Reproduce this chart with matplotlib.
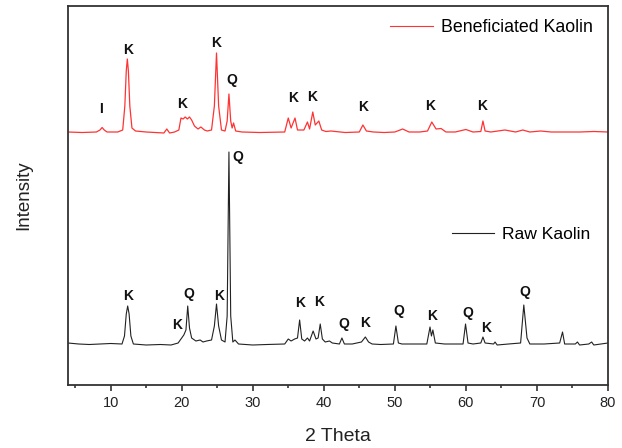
import matplotlib
matplotlib.use("Agg")
import matplotlib.pyplot as plt
from matplotlib.ticker import MultipleLocator
from matplotlib.lines import Line2D

plt.rcParams['font.family'] = ['Liberation Sans', 'DejaVu Sans']

# Raw kaolin trace (2theta, intensity in arbitrary units)
raw_2theta = [4.0, 5.5, 7.0, 8.5, 10.0, 11.6, 11.95, 12.2, 12.4, 12.6, 12.85, 13.2, 15.0, 17.0, 18.5,
              19.5, 19.9, 20.3, 20.6, 20.85, 21.1, 21.4, 22.0, 22.6, 23.0, 23.5, 24.2, 24.6, 24.9,
              25.2, 25.6, 26.1, 26.4, 26.65, 26.9, 27.2, 27.5, 28.0, 30.0, 32.0, 34.5, 35.0, 35.4,
              35.9, 36.3, 36.6, 36.9, 37.3, 37.7, 38.0, 38.5, 38.9, 39.2, 39.5, 39.8, 40.2, 40.8,
              41.2, 42.2, 42.55, 42.9, 44.0, 45.3, 45.85, 46.3, 46.8, 48.0, 49.8, 50.15, 50.5,
              51.0, 52.5, 54.5, 54.95, 55.15, 55.35, 55.7, 57.0, 59.6, 59.95, 60.3, 61.0, 62.1,
              62.4, 62.7, 63.9, 64.1, 64.4, 66.0, 67.7, 68.15, 68.3, 68.6, 69.0, 71.0, 73.2,
              73.6, 73.9, 75.4, 75.7, 76.0, 77.3, 77.7, 78.0, 79.0, 80.0]
raw_int = [53, 52, 51.5, 52, 52.5, 52, 60, 82, 90, 82, 60, 52, 51, 51.5, 51,
           53, 57, 61, 66, 90, 68, 58, 55, 56, 54, 55, 56, 70, 92,
           70, 56, 54, 80, 244, 80, 54, 56, 52, 51, 51.5, 52, 57, 55,
           57, 58, 76, 57, 55, 58, 55, 65, 57, 58, 72, 57, 54, 55,
           53, 52, 58, 52, 52, 54, 59, 54, 52, 51.5, 52, 70, 53,
           52, 52, 52, 69, 60, 66, 53, 52, 52, 72, 53, 52, 53,
           59, 53, 52, 54, 51, 52, 53, 91, 80, 58, 52, 52, 53,
           64, 52, 52, 54, 51, 52, 54, 51, 52, 53]

# Beneficiated kaolin trace
ben_2theta = [4.0, 6.0, 8.0, 8.5, 8.8, 9.1, 9.5, 11.0, 11.7, 12.0, 12.2, 12.35, 12.5, 12.7, 13.0,
              13.5, 15.0, 17.5, 17.9, 18.3, 19.0, 19.6, 19.9, 20.2, 20.5, 20.8, 21.1, 21.4,
              21.8, 22.3, 22.7, 23.2, 23.6, 24.2, 24.6, 24.9, 25.2, 25.6, 26.1, 26.4, 26.65,
              26.9, 27.1, 27.3, 27.6, 28.5, 31.0, 34.5, 35.0, 35.4, 35.95, 36.3, 37.2, 37.7,
              38.0, 38.45, 38.8, 39.3, 39.7, 40.3, 41.0, 43.0, 45.0, 45.5, 46.0, 47.0, 48.5,
              50.0, 51.1, 52.0, 53.5, 54.6, 55.2, 55.8, 56.5, 57.2, 58.5, 60.0, 61.0, 62.1,
              62.4, 62.7, 63.5, 65.5, 67.0, 68.0, 69.0, 70.5, 72.0, 74.0, 76.0, 78.0, 80.0]
ben_int = [264, 263.5, 264, 266, 268.5, 266, 264, 264, 266, 290, 325, 337, 325, 290, 268,
           265, 264, 263, 267, 263, 264, 266, 278, 277, 279, 277, 279, 276,
           270, 267, 269, 266, 265, 266, 290, 343, 290, 266, 265, 275, 302,
           275, 268, 273, 265, 264, 263.5, 264, 278, 268, 278, 266, 266, 274,
           267, 284, 271, 275, 266, 264.5, 265, 263.5, 264, 271, 265, 264, 263.5,
           264, 267, 264, 264, 265, 274, 267, 267.5, 264, 264, 266.5, 264, 264.5,
           275, 265, 264, 266, 264, 266, 264, 265, 264, 264, 264, 264.5, 264]

# Phase labels
ben_lbl_x = [8.7, 12.5, 20.0, 24.9, 27.0, 35.7, 38.4, 45.5, 55.0, 62.3]
ben_lbl_y = [287, 346, 292, 353, 316, 298, 299, 289, 290, 290]
ben_lbl_t = ['I', 'K', 'K', 'K', 'Q', 'K', 'K', 'K', 'K', 'K']

raw_lbl_x = [12.4, 19.4, 21.0, 25.2, 27.9, 36.7, 39.3, 42.8, 45.8, 50.5, 55.2, 60.25, 62.9, 68.3]
raw_lbl_y = [100, 71, 102, 100, 239, 93, 94, 72, 73, 85, 80, 83, 68, 104]
raw_lbl_t = ['K', 'K', 'Q', 'K', 'Q', 'K', 'K', 'Q', 'K', 'Q', 'K', 'Q', 'K', 'Q']

fig = plt.figure(figsize=(6.22, 4.48), dpi=100)
ax = fig.add_axes([68 / 622, 63 / 448, 540 / 622, 379 / 448])

ax.plot(raw_2theta, raw_int, color='#222222', lw=0.8)
ax.plot(ben_2theta, ben_int, color='#ff3333', lw=0.9)

for x, y, t in zip(ben_lbl_x, ben_lbl_y, ben_lbl_t):
    ax.text(x, y, t, ha='center', va='center', fontsize=10, fontweight='bold', color='#111111')
for x, y, t in zip(raw_lbl_x, raw_lbl_y, raw_lbl_t):
    ax.text(x, y, t, ha='center', va='center', fontsize=10, fontweight='bold', color='#111111')

ax.set_xlim(4, 80)
ax.set_ylim(11, 390)
ax.xaxis.set_major_locator(MultipleLocator(10))
ax.xaxis.set_minor_locator(MultipleLocator(5))
ax.tick_params(axis='x', which='major', direction='out', length=4, width=1.2, labelsize=10.5,
               colors='#333333', labelcolor='#222222', pad=4)
ax.tick_params(axis='x', which='minor', direction='out', length=2.3, width=1.2, colors='#333333')
ax.set_yticks([])
for s in ax.spines.values():
    s.set_linewidth(1.3)
    s.set_color('#333333')

ax.set_xlabel('2 Theta', fontsize=14, color='#222222', labelpad=13)
ax.set_ylabel('Intensity', fontsize=13.5, color='#222222', labelpad=26)

leg1 = ax.legend([Line2D([], [], color='#ff3333', lw=0.8)], ['Beneficiated Kaolin'],
                 loc='center left', bbox_to_anchor=(0.596, 0.942), frameon=False,
                 fontsize=12.8, handlelength=2.4, handletextpad=0.45,
                 borderpad=0, borderaxespad=0)
ax.add_artist(leg1)
ax.legend([Line2D([], [], color='#222222', lw=0.8)], ['Raw Kaolin'],
          loc='center left', bbox_to_anchor=(0.711, 0.398), frameon=False,
          fontsize=12.6, handlelength=2.4, handletextpad=0.45,
          borderpad=0, borderaxespad=0)

fig.savefig('out.png', dpi=100)
